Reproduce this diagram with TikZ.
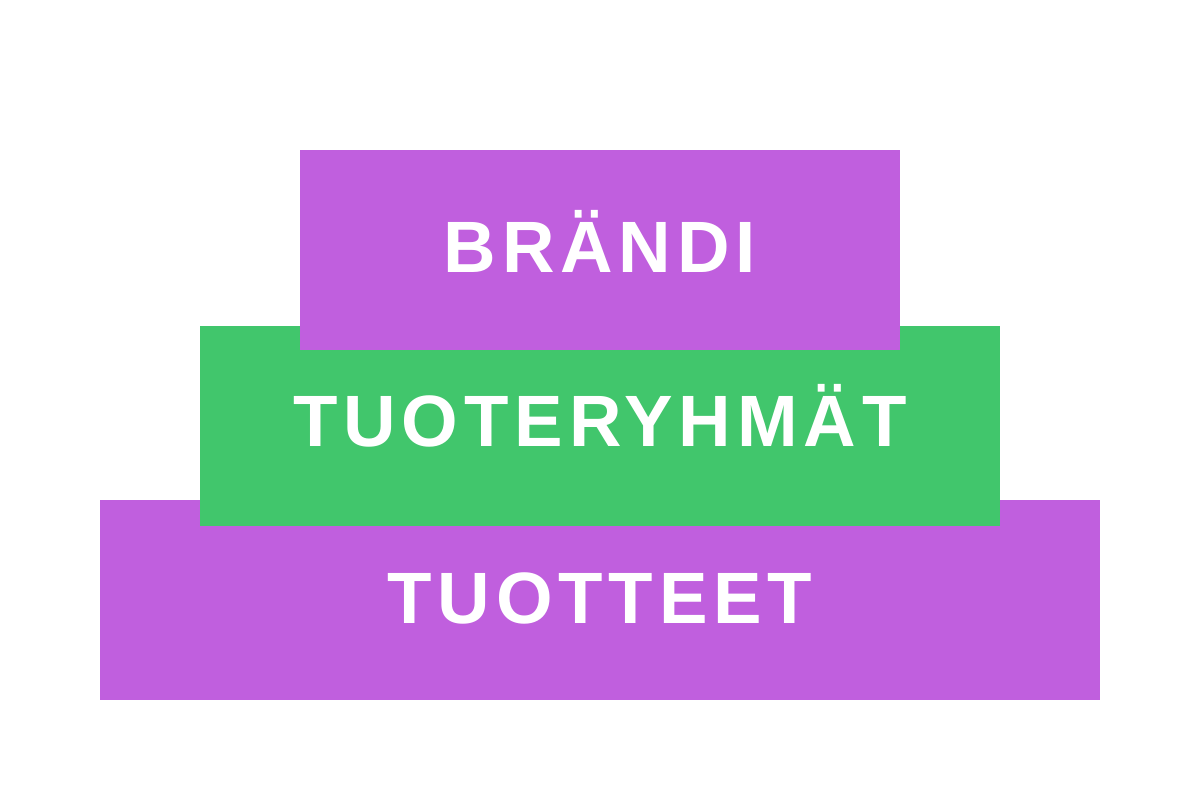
\documentclass[tikz,border=0pt]{standalone}
\usepackage{fontspec}
\setmainfont{Liberation Sans}
\newfontfamily\tierfont{Liberation Sans}[LetterSpace=8]
\definecolor{tierpurple}{HTML}{C05FDE}
\definecolor{tiergreen}{HTML}{41C66C}
\tikzset{tiertext/.style={text=white,font=\tierfont\bfseries\fontsize{20.7}{24}\selectfont,anchor=base,inner sep=0pt}}

\begin{document}
\begin{tikzpicture}
      \useasboundingbox (0,0) rectangle (12,8);
      \fill[tierpurple] (1,1) rectangle (11,3);
      \fill[tiergreen] (2,2.74) rectangle (10,4.74);
      \fill[tierpurple] (3,4.5) rectangle (9,6.5);
      \node[tiertext] (brandi) at (6,5.27) {BRÄNDI};
      \node[tiertext] (ryhmat) at (6,3.53) {TUOTERYHMÄT};
      \node[tiertext] (tuotteet) at (6,1.76) {TUOTTEET};
\end{tikzpicture}
\end{document}
